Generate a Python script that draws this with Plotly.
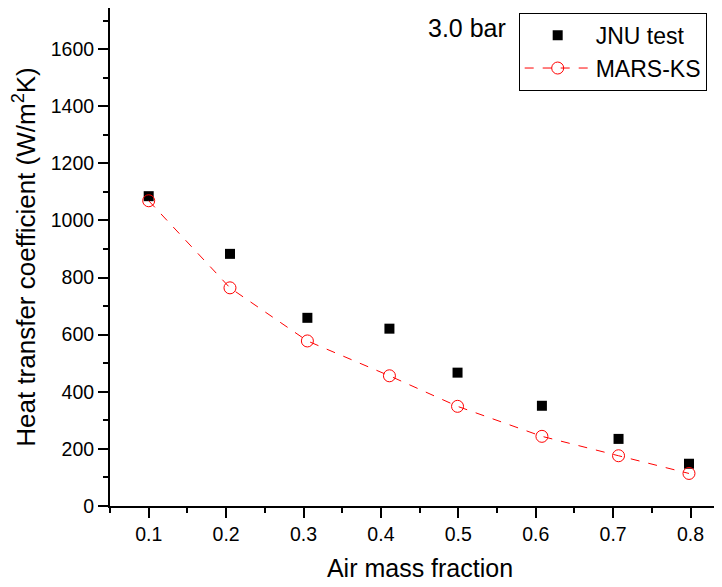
import plotly.graph_objects as go

air_fraction_test = [0.100, 0.205, 0.305, 0.411, 0.499, 0.608, 0.707, 0.798]
htc_test = [1085, 883, 659, 621, 467, 351, 235, 148]
air_fraction_mars = [0.100, 0.205, 0.305, 0.411, 0.499, 0.608, 0.707, 0.798]
htc_mars = [1069, 764, 578, 456, 349, 244, 176, 114]

FONT = "Liberation Sans, Arial, sans-serif"

fig = go.Figure()
fig.add_trace(go.Scatter(
    x=air_fraction_test, y=htc_test, mode="markers", name="JNU test",
    marker=dict(symbol="square", size=10, color="black"),
))
fig.add_trace(go.Scatter(
    x=air_fraction_mars, y=htc_mars, mode="lines+markers", name="MARS-KS",
    line=dict(color="red", width=1, dash="dash"),
    marker=dict(symbol="circle-open", size=12, color="red", line=dict(width=1)),
))

fig.add_annotation(
    x=0.642, y=0.96, xref="paper", yref="paper", xanchor="right", yanchor="middle",
    text="3.0 bar", showarrow=False, font=dict(family=FONT, size=25, color="black"),
)

fig.update_layout(
    width=722, height=587,
    margin=dict(l=102, r=0, t=0, b=89),
    paper_bgcolor="white", plot_bgcolor="white",
    font=dict(family=FONT, color="black"),
    showlegend=True,
    legend=dict(
        x=0.9624, y=0.9906, xanchor="right", yanchor="top",
        bordercolor="black", borderwidth=1, bgcolor="white",
        font=dict(family=FONT, size=23, color="black"),
        tracegroupgap=0, itemwidth=66,
    ),
    xaxis=dict(
        range=[0.05, 0.851], tick0=0.1, dtick=0.1, tickformat=".1f",
        showgrid=False, zeroline=False, automargin=False,
        showline=True, linecolor="black", linewidth=2, mirror=True,
        ticks="outside", ticklen=10, tickwidth=2, tickcolor="black",
        minor=dict(ticks="outside", ticklen=5, tickwidth=2, tickcolor="black",
                   tick0=0.05, dtick=0.1),
        tickfont=dict(family=FONT, size=19.5, color="black"),
        title=dict(text="Air mass fraction", font=dict(family=FONT, size=25, color="black"), standoff=15),
    ),
    yaxis=dict(
        range=[0, 1744], tick0=0, dtick=200,
        showgrid=False, zeroline=False, automargin=False,
        showline=True, linecolor="black", linewidth=2, mirror=False,
        ticks="outside", ticklen=10, tickwidth=2, tickcolor="black",
        minor=dict(ticks="outside", ticklen=5, tickwidth=2, tickcolor="black",
                   tick0=100, dtick=200),
        tickfont=dict(family=FONT, size=19.5, color="black"),
        title=dict(text="Heat transfer coefficient (W/m<sup>2</sup>K)",
                   font=dict(family=FONT, size=26, color="black"), standoff=12),
    ),
)

fig.write_html("out.html")
